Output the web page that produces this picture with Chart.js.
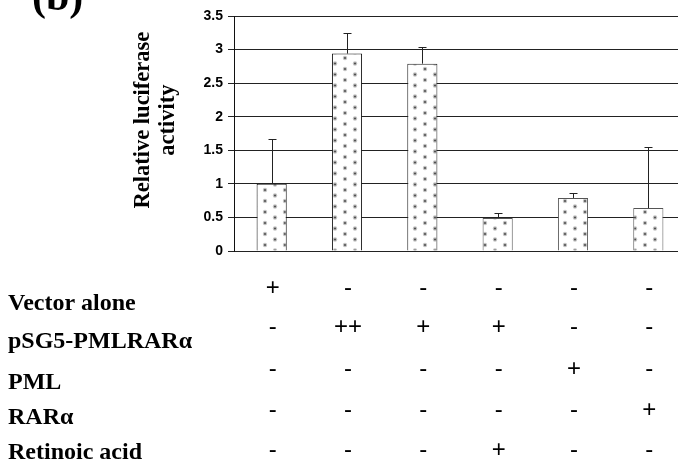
<!DOCTYPE html>
<html>
<head>
<meta charset="utf-8">
<script src="https://cdn.jsdelivr.net/npm/chart.js@4/dist/chart.umd.min.js"></script>
<style>
  html, body { margin: 0; padding: 0; background: #fff; overflow: hidden; }
  #wrap { position: absolute; left: 0; top: 0; width: 690px; height: 463px; }
</style>
</head>
<body>
<div id="wrap"><canvas id="c" width="690" height="463"></canvas></div>
<script>
// ---- data ----
const lanes = ['1', '2', '3', '4', '5', '6'];
const activity = [1.00, 2.94, 2.79, 0.49, 0.79, 0.64];
const errorUp = [0.67, 0.31, 0.25, 0.07, 0.08, 0.91];
const yTickValues = [0, 0.5, 1, 1.5, 2, 2.5, 3, 3.5];
const yTitle = ['Relative luciferase', 'activity'];
const panelLabel = '(b)';
const conditionLabels = ['Vector alone', 'pSG5-PMLRARα', 'PML', 'RARα', 'Retinoic acid'];
const vectorAlone  = ['+', '-', '-', '-', '-', '-'];
const pmlRara      = ['-', '++', '+', '+', '-', '-'];
const pml          = ['-', '-', '-', '-', '+', '-'];
const rara         = ['-', '-', '-', '-', '-', '+'];
const retinoicAcid = ['-', '-', '-', '+', '-', '-'];
const conditionMarks = [vectorAlone, pmlRara, pml, rara, retinoicAcid];

// ---- styles ----
function dotPattern() {
  const t = document.createElement('canvas');
  t.width = 20; t.height = 11;
  const g = t.getContext('2d');
  g.fillStyle = '#fff';
  g.fillRect(0, 0, 20, 11);
  function dot(x, y) {
    g.fillStyle = 'rgba(120,120,120,0.45)';
    g.beginPath(); g.arc(x, y, 2.2, 0, Math.PI * 2); g.fill();
    g.fillStyle = 'rgba(70,70,70,0.9)';
    g.beginPath(); g.arc(x, y, 1.1, 0, Math.PI * 2); g.fill();
  }
  dot(5, 3); dot(15, 8.5);
  return g.createPattern(t, 'repeat');
}
const ctx = document.getElementById('c').getContext('2d');
const barFill = dotPattern();

const errorBars = {
  id: 'errorBars',
  afterDatasetsDraw(chart) {
    const c = chart.ctx, y = chart.scales.y;
    const meta = chart.getDatasetMeta(0);
    c.save();
    c.strokeStyle = '#222';
    c.lineWidth = 1;
    meta.data.forEach((bar, i) => {
      const x = Math.round(bar.x) + 0.5;
      const y0 = y.getPixelForValue(activity[i]);
      const y1 = Math.round(y.getPixelForValue(activity[i] + errorUp[i])) + 0.5;
      c.beginPath();
      c.moveTo(x, y0); c.lineTo(x, y1);
      c.moveTo(x - 4, y1); c.lineTo(x + 4, y1);
      c.stroke();
    });
    c.restore();
  }
};

const annotations = {
  id: 'annotations',
  afterDraw(chart) {
    const c = chart.ctx, xs = chart.scales.x, ys = chart.scales.y;
    c.save();
    c.fillStyle = '#000';
    // panel label
    c.font = 'bold 42px "Liberation Serif", "Times New Roman", serif';
    c.textAlign = 'left'; c.textBaseline = 'alphabetic';
    c.fillText(panelLabel, 32, 10);
    // y axis title
    c.font = 'bold 22.5px "Liberation Serif", "Times New Roman", serif';
    c.textAlign = 'center'; c.textBaseline = 'middle';
    const titleX = [143, 168];
    const titleY = ys.getPixelForValue(1.95);
    yTitle.forEach((t, k) => {
      c.save();
      c.translate(titleX[k], titleY);
      c.rotate(-Math.PI / 2);
      c.fillText(t, 0, 0);
      c.restore();
    });
    // condition labels
    const labelY = [304, 342, 383, 418, 453];
    const markY = [288, 327, 369, 410, 450];
    c.font = 'bold 24px "Liberation Serif", "Times New Roman", serif';
    c.textAlign = 'left';
    conditionLabels.forEach((t, r) => c.fillText(t, 8, labelY[r]));
    c.font = '24px "Liberation Sans", Arial, sans-serif';
    c.textAlign = 'center';
    conditionMarks.forEach((row, r) => {
      row.forEach((m, i) => c.fillText(m, xs.getPixelForValue(i) + 1, markY[r]));
    });
    c.restore();
  }
};

new Chart(ctx, {
  type: 'bar',
  data: {
    labels: lanes,
    datasets: [{
      data: activity,
      backgroundColor: barFill,
      borderColor: ['#111', '#111', '#222', '#555', '#555', '#555'],
      borderWidth: 1,
      borderSkipped: 'bottom',
      barPercentage: 0.4,
      categoryPercentage: 1.0
    }]
  },
  options: {
    responsive: false,
    devicePixelRatio: 1,
    animation: false,
    events: [],
    layout: { padding: { top: 16, right: 4, bottom: 212, left: 0 } },
    plugins: { legend: { display: false }, tooltip: { enabled: false }, title: { display: false } },
    scales: {
      x: {
        grid: { display: false },
        border: { display: false },
        ticks: { display: false },
        afterFit(s) { s.height = 0; }
      },
      y: {
        min: 0, max: 3.5,
        afterFit(s) { s.width = 234; },
        afterBuildTicks(s) { s.ticks = yTickValues.map(v => ({ value: v })); },
        grid: { color: '#222', lineWidth: 1, tickLength: 6, drawTicks: true },
        border: { display: true, color: '#111', width: 1 },
        ticks: {
          color: '#000',
          padding: 5,
          callback: v => String(v),
          font: { family: '"Liberation Sans", Arial, sans-serif', size: 14, weight: 'bold' }
        }
      }
    }
  },
  plugins: [errorBars, annotations]
});
</script>
</body>
</html>
